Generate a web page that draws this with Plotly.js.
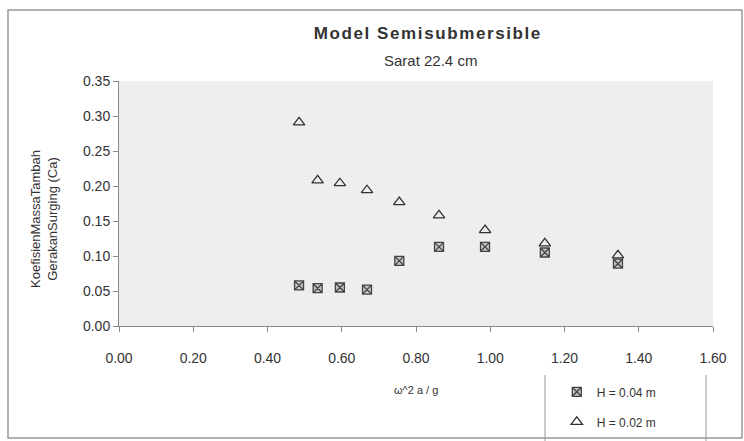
<!DOCTYPE html>
<html>
<head>
<meta charset="utf-8">
<script src="https://cdn.plot.ly/plotly-3.0.1.min.js"></script>
<style>html,body{margin:0;padding:0;background:#fff;}#chart{width:744px;height:441px;}</style>
</head>
<body>
<div id="chart"></div>
<script>
// Data
const xValues = [0.485, 0.535, 0.595, 0.668, 0.755, 0.862, 0.986, 1.147, 1.344];
const caH004 = [0.058, 0.054, 0.055, 0.052, 0.093, 0.113, 0.113, 0.105, 0.089];
const caH002 = [0.291, 0.208, 0.204, 0.194, 0.177, 0.158, 0.137, 0.118, 0.101];
const seriesNames = ['H = 0.04 m', 'H = 0.02 m'];
const xTickValues = [0, 0.2, 0.4, 0.6, 0.8, 1.0, 1.2, 1.4, 1.6];
const yTickValues = [0, 0.05, 0.10, 0.15, 0.20, 0.25, 0.30, 0.35];

const FONT = 'Liberation Sans, Arial, sans-serif';

const traces = [
  {
    x: xValues, y: caH004, name: seriesNames[0], type: 'scatter', mode: 'markers',
    legendgroup: 'a',
    marker: {symbol: 'square-x', size: 9, color: '#c4c4c4', line: {color: '#444', width: 1.3}}
  },
  {
    x: xValues, y: caH002, name: seriesNames[1], type: 'scatter', mode: 'markers',
    legendgroup: 'b',
    marker: {symbol: 'triangle-up-open', size: 10, color: '#333', line: {color: '#333', width: 1.3}}
  }
];

const layout = {
  width: 744, height: 441,
  margin: {l: 119, r: 31, t: 81, b: 115, autoexpand: false},
  paper_bgcolor: '#ffffff',
  plot_bgcolor: '#eeeeee',
  font: {family: FONT, color: '#333'},
  showlegend: true,
  title: {
    text: '<b><span style="letter-spacing:1.6px">Model Semisubmersible</span></b>',
    font: {family: FONT, size: 17, color: '#333'},
    xref: 'container', x: 0.575, xanchor: 'center',
    yref: 'container', y: 1 - 33/441, yanchor: 'middle'
  },
  xaxis: {
    range: [0, 1.6], tickvals: xTickValues, tickformat: '.2f',
    showgrid: false, zeroline: false, showline: true, linecolor: '#888', linewidth: 1,
    ticks: 'outside', ticklen: 5, tickcolor: '#888',
    ticklabelstandoff: 14,
    tickfont: {family: FONT, size: 14, color: '#333'},
    automargin: false,
    fixedrange: true
  },
  yaxis: {
    range: [0, 0.35], tickvals: yTickValues, tickformat: '.2f',
    showgrid: false, zeroline: false, showline: true, linecolor: '#888', linewidth: 1,
    ticks: 'outside', ticklen: 5, tickcolor: '#888',
    tickfont: {family: FONT, size: 14, color: '#333'},
    automargin: false,
    fixedrange: true
  },
  legend: {
    x: 0.737, xanchor: 'left', y: -0.2095, yanchor: 'top',
    bgcolor: 'rgba(0,0,0,0)', borderwidth: 0,
    traceorder: 'grouped', tracegroupgap: 11,
    font: {family: FONT, size: 12, color: '#333'}
  },
  annotations: [
    {text: 'Sarat 22.4 cm', xref: 'paper', yref: 'paper', x: 0.525, y: (326-60)/245,
     xanchor: 'center', yanchor: 'middle', showarrow: false,
     font: {family: FONT, size: 15, color: '#333'}},
    {text: 'ω^2 a / g', xref: 'paper', yref: 'paper', x: 0.5, y: (326-390)/245,
     xanchor: 'center', yanchor: 'middle', showarrow: false,
     font: {family: FONT, size: 11, color: '#333'}},
    {text: 'KoefisienMassaTambah<br>GerakanSurging (Ca)', xref: 'paper', yref: 'paper',
     x: (44-119)/594, y: (326-219)/245, xanchor: 'center', yanchor: 'middle',
     textangle: -90, showarrow: false,
     font: {family: FONT, size: 13, color: '#333'}}
  ],
  shapes: [
    // outer chart frame
    {type: 'rect', xref: 'paper', yref: 'paper',
     x0: (8-119)/594, x1: (742-119)/594, y0: (326-438)/245, y1: (326-10)/245,
     line: {color: '#999', width: 1.5}, fillcolor: 'rgba(0,0,0,0)', layer: 'below'},
    // legend box sides
    {type: 'line', xref: 'paper', yref: 'paper',
     x0: (545-119)/594, x1: (545-119)/594, y0: (326-450)/245, y1: (326-375)/245,
     line: {color: '#999', width: 1}, layer: 'below'},
    {type: 'line', xref: 'paper', yref: 'paper',
     x0: (706-119)/594, x1: (706-119)/594, y0: (326-450)/245, y1: (326-375)/245,
     line: {color: '#999', width: 1}, layer: 'below'}
  ]
};

Plotly.newPlot('chart', traces, layout, {displayModeBar: false, staticPlot: true});
</script>
</body>
</html>
